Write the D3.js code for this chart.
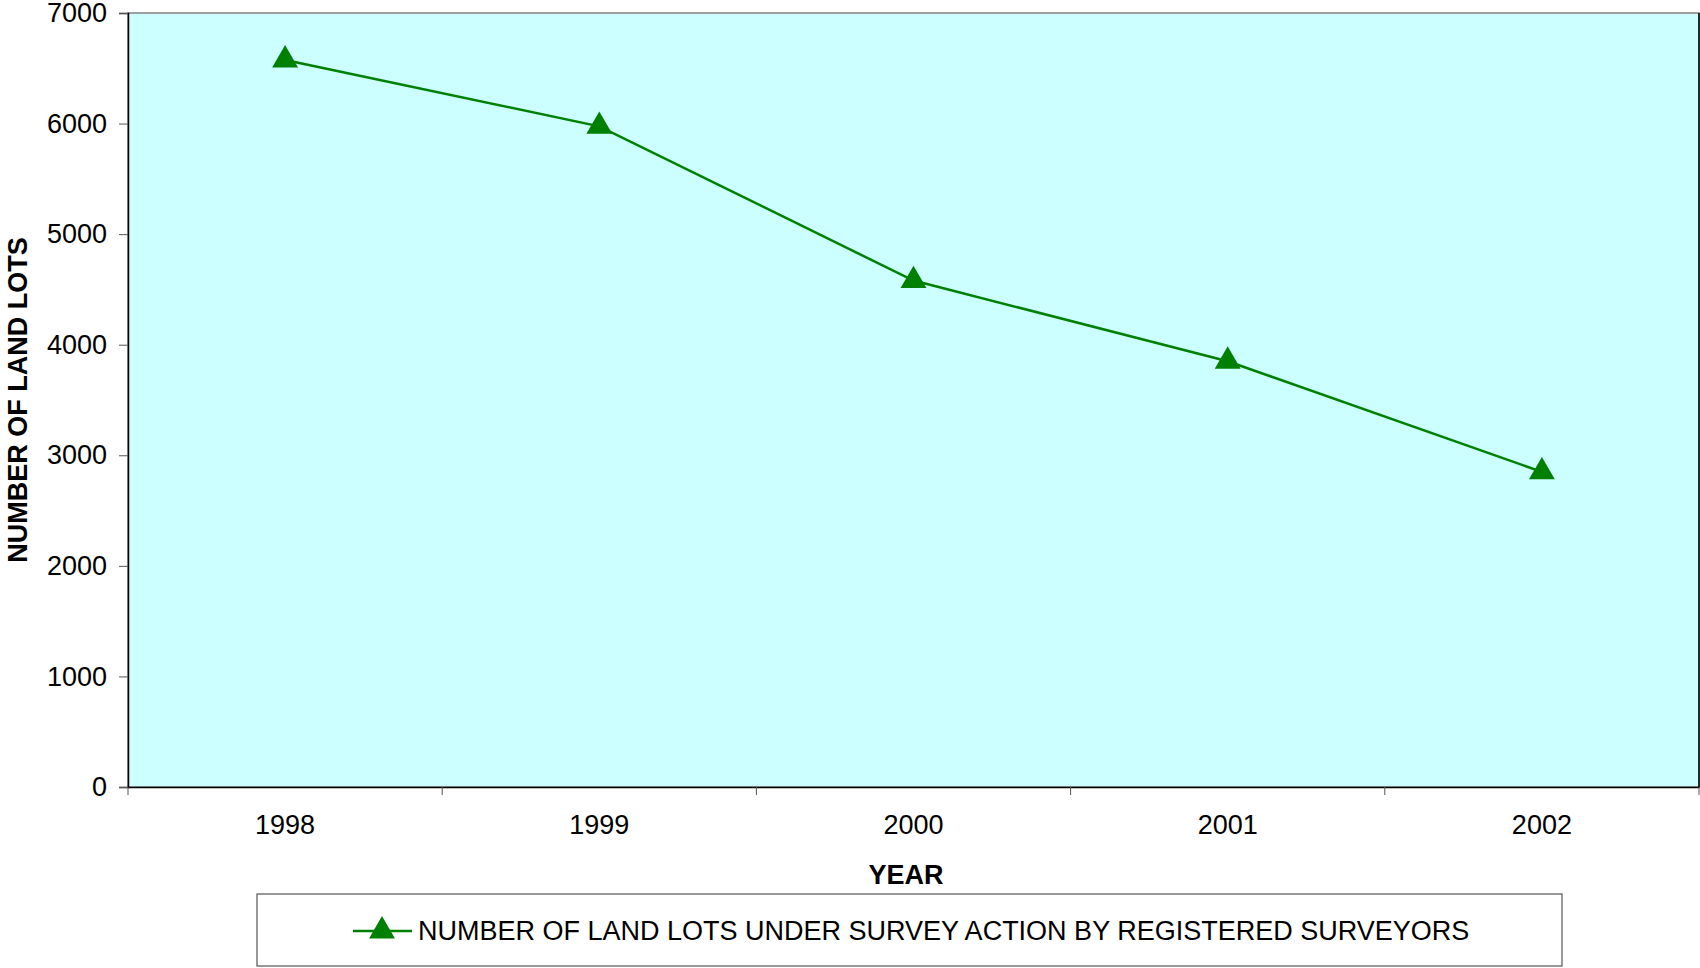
<!DOCTYPE html>
<html>
<head>
    <script src="https://d3js.org/d3.v7.min.js"></script>
    <style>
        body { margin: 0; background: #fff; }
        text { font-family: "Liberation Sans", Arial, sans-serif; }
    </style>
</head>
<body>
<div id="chart"></div>

<script>
    // data
    var years = ["1998", "1999", "2000", "2001", "2002"];
    var lots = [6575, 5975, 4580, 3850, 2850];
    var yTicks = [0, 1000, 2000, 3000, 4000, 5000, 6000, 7000];
    var seriesName = "NUMBER OF LAND LOTS UNDER SURVEY ACTION BY REGISTERED SURVEYORS";

    var W = 1700, H = 968;
    var margin = { top: 13, right: 1, bottom: 181, left: 128 },
        width = W - margin.left - margin.right,
        height = H - margin.top - margin.bottom;

    var svg = d3.select("#chart").append("svg")
        .attr("width", W)
        .attr("height", H);

    var g = svg.append("g")
        .attr("transform", "translate(" + margin.left + "," + margin.top + ")");

    var x = d3.scaleBand().domain(years).range([0, width]);
    var y = d3.scaleLinear().domain([0, 7000]).range([height, 0]);

    // plot area
    g.append("rect")
        .attr("width", width)
        .attr("height", height)
        .attr("fill", "#ccffff")
        .attr("stroke", "#808080")
        .attr("stroke-width", 1.5);

    g.append("line")
        .attr("x1", width).attr("x2", width)
        .attr("y1", 0).attr("y2", height)
        .attr("stroke", "#000").attr("stroke-width", 1.5);

    // y axis
    var yAxis = g.append("g")
        .call(d3.axisLeft(y).tickValues(yTicks).tickSize(9).tickPadding(12).tickFormat(d3.format("d")));
    yAxis.select(".domain").attr("stroke", "#000").attr("stroke-width", 1.5);
    yAxis.selectAll(".tick line").attr("stroke", "#555");
    yAxis.selectAll("text").attr("font-size", 27).attr("fill", "#000")
        .style("font-family", "'Liberation Sans', Arial, sans-serif");

    // x axis: ticks between categories
    var xAxis = g.append("g")
        .attr("transform", "translate(0," + height + ")")
        .call(d3.axisBottom(x).tickSize(0).tickPadding(28));
    xAxis.select(".domain").attr("stroke", "#000").attr("stroke-width", 1.5);
    xAxis.selectAll("text").attr("font-size", 27).attr("fill", "#000")
        .style("font-family", "'Liberation Sans', Arial, sans-serif");

    var bounds = years.map(function(d) { return x(d); }).concat([width]);
    g.selectAll(".xtick")
        .data(bounds)
        .enter().append("line")
        .attr("x1", function(d) { return d; })
        .attr("x2", function(d) { return d; })
        .attr("y1", height)
        .attr("y2", height + 8)
        .attr("stroke", "#555");

    // axis titles
    svg.append("text")
        .attr("x", 906)
        .attr("y", 884)
        .attr("text-anchor", "middle")
        .attr("font-size", 27)
        .attr("font-weight", "bold")
        .text("YEAR");

    svg.append("text")
        .attr("transform", "translate(27," + (margin.top + height / 2) + ") rotate(-90)")
        .attr("text-anchor", "middle")
        .attr("font-size", 27)
        .attr("font-weight", "bold")
        .text("NUMBER OF LAND LOTS");

    // series
    var pts = years.map(function(d, i) { return { year: d, v: lots[i] }; });
    var line = d3.line()
        .x(function(d) { return x(d.year) + x.bandwidth() / 2; })
        .y(function(d) { return y(d.v); });

    g.append("path")
        .datum(pts)
        .attr("d", line)
        .attr("fill", "none")
        .attr("stroke", "#008000")
        .attr("stroke-width", 2.5);

    var tri = d3.symbol().type(d3.symbolTriangle).size(290);
    g.selectAll(".pt")
        .data(pts)
        .enter().append("path")
        .attr("d", tri)
        .attr("transform", function(d) {
            return "translate(" + (x(d.year) + x.bandwidth() / 2) + "," + y(d.v) + ")";
        })
        .attr("fill", "#008000");

    // legend
    var leg = svg.append("g");
    leg.append("rect")
        .attr("x", 257).attr("y", 894)
        .attr("width", 1305).attr("height", 72)
        .attr("fill", "#fff")
        .attr("stroke", "#555")
        .attr("stroke-width", 1.2);
    leg.append("line")
        .attr("x1", 353).attr("x2", 412)
        .attr("y1", 931).attr("y2", 931)
        .attr("stroke", "#008000").attr("stroke-width", 2.5);
    leg.append("path")
        .attr("d", tri)
        .attr("transform", "translate(382,931)")
        .attr("fill", "#008000");
    leg.append("text")
        .attr("x", 418)
        .attr("y", 940)
        .attr("font-size", 27)
        .text(seriesName);
</script>
</body>
</html>
